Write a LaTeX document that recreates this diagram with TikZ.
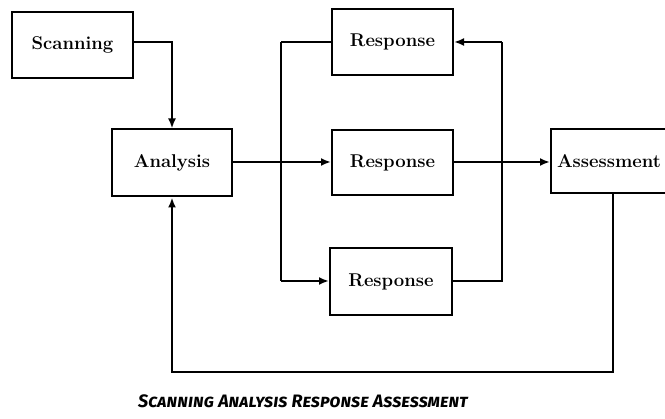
\documentclass[tikz,border=0pt]{standalone}
\usepackage{fontspec}
\usetikzlibrary{arrows.meta}
\newfontfamily\titlefont{Fira Sans}[Letters=SmallCaps]
\tikzset{
  box/.style={draw, line width=2pt, minimum width=121pt, minimum height=66pt, inner sep=0pt,
    font=\bfseries\fontsize{18.5}{20}\selectfont},
  conn/.style={line width=2pt},
  arr/.style={line width=2pt, -{Latex[length=10pt,width=8pt]}}
}
\begin{document}
\begin{tikzpicture}[x=1pt,y=-1pt]
\clip (0,0) rectangle (665,419);
\fill[white] (0,0) rectangle (665,419);
\node[box] (scan) at (72.5,45) {Scanning};
\node[box, minimum width=120pt, minimum height=67pt] (anal) at (172,163) {Analysis};
\node[box] (rtop) at (392.5,42) {Response};
\node[box, minimum height=65pt] (rmid) at (392.5,162.5) {Response};
\node[box, minimum width=122pt, minimum height=67pt] (rbot) at (391,281.5) {Response};
\node[box, minimum width=124pt, minimum height=64pt, text width=112pt, align=left, inner xsep=6pt] (assess) at (613,161) {Assessment};
\coordinate (s1) at (172,42);
\coordinate (sp1) at (281,42);
\coordinate (sp2) at (281,281);
\coordinate (mid) at (0,162);
\coordinate (m1) at (502,42);
\coordinate (m2) at (502,281);
\coordinate (f1) at (613,372);
\coordinate (f2) at (172,372);
\draw[arr] (scan.east |- s1) -- (s1) -- (anal.north);
\draw[arr] (anal.east |- mid) -- (rmid.west |- mid);
\draw[conn] (sp1) -- (rtop.west |- sp1);
\draw[conn] (sp1) -- (sp2);
\draw[arr] (sp2) -- (rbot.west |- sp2);
\draw[arr] (rmid.east |- mid) -- (assess.west |- mid);
\draw[conn] (rbot.east |- m2) -- (m2) -- (m1);
\draw[arr] (m1) -- (rtop.east |- m1);
\draw[arr] (assess.south) -- (f1) -- (f2) -- (anal.south);
\node[font=\titlefont\bfseries\itshape\fontsize{18}{20}\selectfont] (title) at (303,401) {Scanning Analysis Response Assessment};
\end{tikzpicture}
\end{document}
